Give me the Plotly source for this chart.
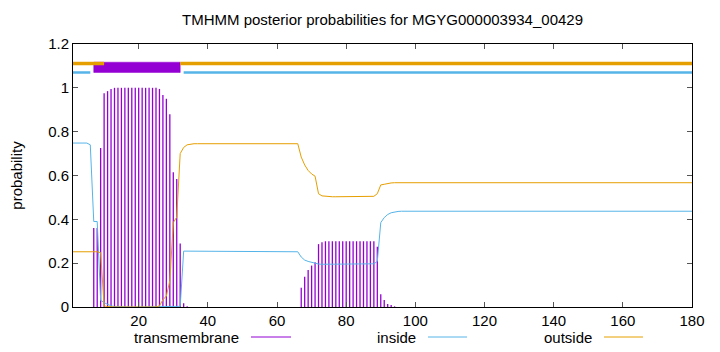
import plotly.graph_objects as go

# ---------------- data ----------------
residues = list(range(1, 181))

inside = [
    0.748, 0.748, 0.748, 0.748, 0.748, 0.74, 0.39, 0.39, 0.03, 0.02,
    0.012, 0.005, 0.002, 0.001, 0, 0, 0, 0, 0, 0,
    0, 0, 0, 0, 0, 0, 0, 0, 0, 0.001,
    0.002, 0.003, 0.255, 0.255, 0.255, 0.255, 0.255, 0.255, 0.255, 0.255,
    0.255, 0.255, 0.255, 0.255, 0.255, 0.255, 0.255, 0.255, 0.255, 0.255,
    0.255, 0.255, 0.255, 0.255, 0.255, 0.255, 0.255, 0.255, 0.255, 0.255,
    0.255, 0.255, 0.255, 0.255, 0.255, 0.252, 0.228, 0.214, 0.208, 0.204,
    0.199, 0.196, 0.195, 0.195, 0.195, 0.195, 0.195, 0.195, 0.195, 0.195,
    0.195, 0.195, 0.195, 0.195, 0.195, 0.195, 0.195, 0.197, 0.208, 0.385,
    0.408, 0.422, 0.43, 0.434, 0.436, 0.437, 0.437, 0.437, 0.437, 0.437,
    0.437, 0.437, 0.437, 0.437, 0.437, 0.437, 0.437, 0.437, 0.437, 0.437,
    0.437, 0.437, 0.437, 0.437, 0.437, 0.437, 0.437, 0.437, 0.437, 0.437,
    0.437, 0.437, 0.437, 0.437, 0.437, 0.437, 0.437, 0.437, 0.437, 0.437,
    0.437, 0.437, 0.437, 0.437, 0.437, 0.437, 0.437, 0.437, 0.437, 0.437,
    0.437, 0.437, 0.437, 0.437, 0.437, 0.437, 0.437, 0.437, 0.437, 0.437,
    0.437, 0.437, 0.437, 0.437, 0.437, 0.437, 0.437, 0.437, 0.437, 0.437,
    0.437, 0.437, 0.437, 0.437, 0.437, 0.437, 0.437, 0.437, 0.437, 0.437,
    0.437, 0.437, 0.437, 0.437, 0.437, 0.437, 0.437, 0.437, 0.437, 0.437,
]

outside = [
    0.252, 0.252, 0.252, 0.252, 0.252, 0.252, 0.252, 0.252, 0.248, 0.005,
    0.002, 0, 0, 0, 0, 0, 0, 0, 0, 0,
    0, 0, 0, 0, 0, 0.005, 0.033, 0.05, 0.12, 0.385,
    0.41, 0.70, 0.728, 0.74, 0.744, 0.745, 0.745, 0.745, 0.745, 0.745,
    0.745, 0.745, 0.745, 0.745, 0.745, 0.745, 0.745, 0.745, 0.745, 0.745,
    0.745, 0.745, 0.745, 0.745, 0.745, 0.745, 0.745, 0.745, 0.745, 0.745,
    0.745, 0.745, 0.745, 0.745, 0.745, 0.745, 0.684, 0.648, 0.623, 0.607,
    0.597, 0.517, 0.507, 0.505, 0.503, 0.503, 0.503, 0.503, 0.503, 0.503,
    0.503, 0.503, 0.503, 0.503, 0.503, 0.503, 0.503, 0.505, 0.517, 0.557,
    0.56, 0.564, 0.566, 0.567, 0.567, 0.567, 0.567, 0.567, 0.567, 0.567,
    0.567, 0.567, 0.567, 0.567, 0.567, 0.567, 0.567, 0.567, 0.567, 0.567,
    0.567, 0.567, 0.567, 0.567, 0.567, 0.567, 0.567, 0.567, 0.567, 0.567,
    0.567, 0.567, 0.567, 0.567, 0.567, 0.567, 0.567, 0.567, 0.567, 0.567,
    0.567, 0.567, 0.567, 0.567, 0.567, 0.567, 0.567, 0.567, 0.567, 0.567,
    0.567, 0.567, 0.567, 0.567, 0.567, 0.567, 0.567, 0.567, 0.567, 0.567,
    0.567, 0.567, 0.567, 0.567, 0.567, 0.567, 0.567, 0.567, 0.567, 0.567,
    0.567, 0.567, 0.567, 0.567, 0.567, 0.567, 0.567, 0.567, 0.567, 0.567,
    0.567, 0.567, 0.567, 0.567, 0.567, 0.567, 0.567, 0.567, 0.567, 0.567,
]

transmembrane = [
    0, 0, 0, 0, 0, 0, 0.36, 0.36, 0.725, 0.975,
    0.985, 0.995, 1.0, 1.0, 1.0, 1.0, 1.0, 1.0, 1.0, 1.0,
    1.0, 1.0, 1.0, 1.0, 1.0, 0.995, 0.967, 0.95, 0.88, 0.615,
    0.584, 0.29, 0.017, 0.003, 0, 0, 0, 0, 0, 0,
    0, 0, 0, 0, 0, 0, 0, 0, 0, 0,
    0, 0, 0, 0, 0, 0, 0, 0, 0, 0,
    0, 0, 0, 0, 0, 0, 0.088, 0.138, 0.169, 0.189,
    0.204, 0.287, 0.295, 0.3, 0.3, 0.3, 0.3, 0.3, 0.3, 0.3,
    0.3, 0.3, 0.3, 0.3, 0.3, 0.3, 0.3, 0.3, 0.275, 0.058,
    0.032, 0.014, 0.009, 0.003, 0, 0, 0, 0, 0, 0,
    0, 0, 0, 0, 0, 0, 0, 0, 0, 0,
    0, 0, 0, 0, 0, 0, 0, 0, 0, 0,
    0, 0, 0, 0, 0, 0, 0, 0, 0, 0,
    0, 0, 0, 0, 0, 0, 0, 0, 0, 0,
    0, 0, 0, 0, 0, 0, 0, 0, 0, 0,
    0, 0, 0, 0, 0, 0, 0, 0, 0, 0,
    0, 0, 0, 0, 0, 0, 0, 0, 0, 0,
    0, 0, 0, 0, 0, 0, 0, 0, 0, 0,
]

# predicted topology segments (start residue, end residue)
tm_segments = [(7, 32)]
inside_segments = [(1, 6), (33, 180)]
outside_segments = [(1, 10), (32, 180)]
topology_levels = {"tm_low": 1.07, "tm_high": 1.117, "inside": 1.07, "outside": 1.111}

x_ticks = [20, 40, 60, 80, 100, 120, 140, 160, 180]
y_ticks = [0, 0.2, 0.4, 0.6, 0.8, 1, 1.2]
y_ticklabels = ["0", "0.2", "0.4", "0.6", "0.8", "1", "1.2"]

title_text = "TMHMM posterior probabilities for MGYG000003934_00429"
legend_names = ["transmembrane", "inside", "outside"]

C_TM = "#9400D3"
C_IN = "#56B4E9"
C_OUT = "#E69F00"
FONT = "Liberation Sans"

fig = go.Figure()

# transmembrane impulses (vertical lines from 0 to value, gnuplot 'impulses' style)
imp_x, imp_y = [], []
for r, v in zip(residues, transmembrane):
    if v > 0:
        imp_x += [r, r, None]
        imp_y += [0, v, None]
fig.add_trace(go.Scatter(x=imp_x, y=imp_y, mode="lines",
                         line=dict(color=C_TM, width=1.3), showlegend=False,
                         hoverinfo="skip"))
fig.add_trace(go.Scatter(x=residues, y=inside, mode="lines",
                         line=dict(color=C_IN, width=1), showlegend=False))
fig.add_trace(go.Scatter(x=residues, y=outside, mode="lines",
                         line=dict(color=C_OUT, width=1), showlegend=False))

# topology bars at top
for s, e in tm_segments:
    lo, hi = topology_levels["tm_low"], topology_levels["tm_high"]
    fig.add_trace(go.Scatter(x=[s, e, e, s, s], y=[lo, lo, hi, hi, lo], mode="lines",
                             fill="toself", fillcolor=C_TM, line=dict(color=C_TM, width=0.5),
                             showlegend=False, hoverinfo="skip"))
for s, e in outside_segments:
    yv = topology_levels["outside"]
    fig.add_trace(go.Scatter(x=[s, e], y=[yv, yv], mode="lines",
                             line=dict(color=C_OUT, width=3.5), showlegend=False, hoverinfo="skip"))
for s, e in inside_segments:
    yv = topology_levels["inside"]
    fig.add_trace(go.Scatter(x=[s, e], y=[yv, yv], mode="lines",
                             line=dict(color=C_IN, width=2.5), showlegend=False, hoverinfo="skip"))

# custom gnuplot-style key below the plot (text then sample line)
L, R, T, B = 73, 28, 44, 45
W, H = 720, 352
pw, ph = W - L - R, H - T - B
key_text_right_px = [241, 418, 594]
key_line_px = [(251, 291), (428, 467), (604, 643)]
key_y_px = 337
key_colors = [C_TM, C_IN, C_OUT]
ky = (H - B - key_y_px) / ph
for name, tx, (l0, l1), col in zip(legend_names, key_text_right_px, key_line_px, key_colors):
    fig.add_annotation(x=(tx - L) / pw, y=ky, xref="paper", yref="paper", text=name,
                       showarrow=False, xanchor="right", yanchor="middle",
                       font=dict(family=FONT, size=15, color="black"))
    fig.add_shape(type="line", xref="paper", yref="paper",
                  x0=(l0 - L) / pw, x1=(l1 - L) / pw, y0=ky, y1=ky,
                  line=dict(color=col, width=1))

fig.update_layout(
    width=W, height=H,
    margin=dict(l=L, r=R, t=T, b=B, autoexpand=False),
    plot_bgcolor="white", paper_bgcolor="white",
    title=dict(text=title_text, x=(L + pw / 2) / W, xanchor="center", y=1 - 20 / H,
               yanchor="middle", font=dict(family=FONT, size=15, color="black")),
    font=dict(family=FONT, size=15, color="black"),
    showlegend=False,
)
fig.update_xaxes(range=[1, 180], tickvals=x_ticks, ticks="inside", ticklen=5,
                 tickcolor="#555", showline=True, linecolor="black", linewidth=1,
                 mirror="allticks", showgrid=False, zeroline=False,
                 tickfont=dict(family=FONT, size=15))
fig.update_yaxes(range=[0, 1.2], tickvals=y_ticks, ticktext=y_ticklabels, ticks="inside",
                 ticklen=5, tickcolor="#555", showline=True, linecolor="black", linewidth=1,
                 mirror="allticks", showgrid=False, zeroline=False,
                 title=dict(text="probability", font=dict(family=FONT, size=15), standoff=21),
                 tickfont=dict(family=FONT, size=15))

fig.write_html("out.html")
